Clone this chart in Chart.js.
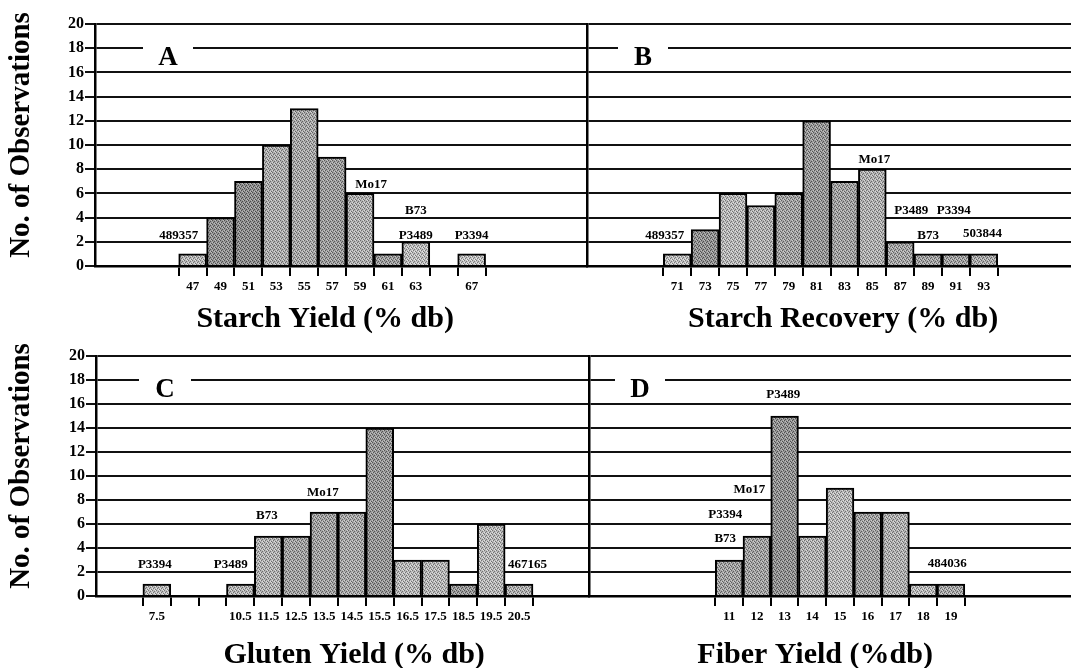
<!DOCTYPE html>
<html>
<head>
<meta charset="utf-8">
<script src="https://cdn.jsdelivr.net/npm/chart.js@4/dist/chart.umd.min.js"></script>
<style>
  body { margin: 0; background: #fff; }
  #page { position: relative; width: 1071px; height: 668px; overflow: hidden; background: #fff; }
  canvas { position: absolute; }
</style>
</head>
<body>
<div id="page">
  <canvas id="chartA" width="590" height="340" style="left:0;top:0"></canvas>
  <canvas id="chartB" width="486" height="340" style="left:585px;top:0"></canvas>
  <canvas id="chartC" width="592" height="338" style="left:0;top:330px"></canvas>
  <canvas id="chartD" width="484" height="338" style="left:587px;top:330px"></canvas>
</div>
<script>
// A: starch yield
const starchYieldBins = [47, 49, 51, 53, 55, 57, 59, 61, 63, 65, 67];
const starchYieldCounts = [1, 4, 7, 10, 13, 9, 6, 1, 2, 0, 1];
const starchYieldTicks = ['47', '49', '51', '53', '55', '57', '59', '61', '63', '', '67'];

// B: starch recovery
const starchRecoveryBins = [71, 73, 75, 77, 79, 81, 83, 85, 87, 89, 91, 93];
const starchRecoveryCounts = [1, 3, 6, 5, 6, 12, 7, 8, 2, 1, 1, 1];
const starchRecoveryTicks = ['71', '73', '75', '77', '79', '81', '83', '85', '87', '89', '91', '93'];

// C: gluten yield
const glutenYieldBins = [7.5, 8.5, 9.5, 10.5, 11.5, 12.5, 13.5, 14.5, 15.5, 16.5, 17.5, 18.5, 19.5, 20.5];
const glutenYieldCounts = [1, 0, 0, 1, 5, 5, 7, 7, 14, 3, 3, 1, 6, 1];
const glutenYieldTicks = ['7.5', '', '', '10.5', '11.5', '12.5', '13.5', '14.5', '15.5', '16.5', '17.5', '18.5', '19.5', '20.5'];

// D: fiber yield
const fiberYieldBins = [11, 12, 13, 14, 15, 16, 17, 18, 19];
const fiberYieldCounts = [3, 5, 15, 5, 9, 7, 7, 1, 1];
const fiberYieldTicks = ['11', '12', '13', '14', '15', '16', '17', '18', '19'];

const countTicks = [0, 2, 4, 6, 8, 10, 12, 14, 16, 18, 20];

// strain names written over the bars (x, y in data units)
const starchYieldNotes = [
  { text: '489357', x: 46.0, y: 2.5 },
  { text: 'Mo17', x: 59.8, y: 6.7 },
  { text: 'B73', x: 63.0, y: 4.6 },
  { text: 'P3489', x: 63.0, y: 2.55 },
  { text: 'P3394', x: 67.0, y: 2.55 }
];
const starchRecoveryNotes = [
  { text: '489357', x: 70.1, y: 2.55 },
  { text: 'Mo17', x: 85.15, y: 8.75 },
  { text: 'P3489', x: 87.8, y: 4.55 },
  { text: 'P3394', x: 90.85, y: 4.55 },
  { text: 'B73', x: 89.0, y: 2.55 },
  { text: '503844', x: 92.9, y: 2.65 }
];
const glutenYieldNotes = [
  { text: 'P3394', x: 7.43, y: 2.65 },
  { text: 'P3489', x: 10.15, y: 2.65 },
  { text: 'B73', x: 11.45, y: 6.7 },
  { text: 'Mo17', x: 13.46, y: 8.65 },
  { text: '467165', x: 20.8, y: 2.65 }
];
const fiberYieldNotes = [
  { text: 'P3489', x: 12.95, y: 16.8 },
  { text: 'Mo17', x: 11.73, y: 8.9 },
  { text: 'P3394', x: 10.86, y: 6.8 },
  { text: 'B73', x: 10.86, y: 4.75 },
  { text: '484036', x: 18.87, y: 2.72 }
];

const serif = '"Liberation Serif", "Times New Roman", serif';

// stippled gray fill, like the halftone screen in the print
const halftone = (level) => {
  const c = document.createElement('canvas');
  c.width = 4; c.height = 4;
  const g = c.getContext('2d');
  g.fillStyle = `rgb(${level},${level},${level})`;
  g.fillRect(0, 0, 4, 4);
  const dark = Math.max(level - 70, 0);
  g.fillStyle = `rgb(${dark},${dark},${dark})`;
  [[0, 0], [2, 1], [1, 2], [3, 3]].forEach(([px, py]) => g.fillRect(px, py, 1, 1));
  const lite = Math.min(level + 40, 255);
  g.fillStyle = `rgb(${lite},${lite},${lite})`;
  [[2, 3], [0, 2], [3, 0]].forEach(([px, py]) => g.fillRect(px, py, 1, 1));
  return g.createPattern(c, 'repeat');
};

const panelText = (cfg) => ({
  id: 'panelText',
  afterDraw(chart) {
    const { ctx, chartArea, scales } = chart;
    const x = scales.x, y = scales.y;
    ctx.save();
    ctx.textAlign = 'center';

    // panel letter sits in a break of the 18 gridline
    const lineY = y.getPixelForValue(18);
    const lx = chartArea.left + cfg.letterX;
    ctx.fillStyle = '#fff';
    ctx.fillRect(lx - cfg.gap, lineY - 3, cfg.gap * 2, 6);
    ctx.fillStyle = '#000';
    ctx.font = 'bold 27px ' + serif;
    ctx.textBaseline = 'alphabetic';
    ctx.fillText(cfg.letter, lx, lineY + 17);

    ctx.font = 'bold 13px ' + serif;
    ctx.textBaseline = 'middle';
    cfg.notes.forEach(n => ctx.fillText(n.text, x.getPixelForValue(n.x), y.getPixelForValue(n.y)));

    ctx.font = 'bold 30px ' + serif;
    ctx.fillText(cfg.title, x.getPixelForValue(cfg.titleAt), chartArea.bottom + cfg.titleGap);

    if (cfg.yTitle) {
      ctx.translate(22, (chartArea.top + chartArea.bottom) / 2 - 10);
      ctx.rotate(-Math.PI / 2);
      ctx.font = 'bold 29px ' + serif;
      ctx.fillText(cfg.yTitle, 0, 0);
    }
    ctx.restore();
  }
});

const makeChart = (id, cfg) => {
  const half = cfg.width / 2;
  const edges = new Set();
  cfg.bins.forEach(b => { edges.add(b - half); edges.add(b + half); });
  const labelAt = new Map(cfg.bins.map((b, i) => [b, cfg.tickLabels[i]]));
  const xTicks = [...edges, ...cfg.bins].sort((a, b) => a - b);
  const showY = cfg.yWidth > 0;

  return new Chart(document.getElementById(id), {
    type: 'bar',
    data: {
      datasets: [{
        data: cfg.bins.map((b, i) => ({ x: b, y: cfg.counts[i] })),
        backgroundColor: cfg.shades.map(halftone),
        borderColor: '#000',
        borderWidth: 2,
        barThickness: 'flex',
        barPercentage: 1,
        categoryPercentage: 1
      }]
    },
    options: {
      responsive: false,
      animation: false,
      events: [],
      layout: { padding: cfg.padding },
      plugins: { legend: { display: false }, tooltip: { enabled: false } },
      scales: {
        x: {
          type: 'linear',
          min: cfg.xMin,
          max: cfg.xMax,
          offset: false,
          grid: {
            offset: false,
            drawOnChartArea: false,
            tickLength: 10,
            lineWidth: 2,
            tickColor: (c) => (c.tick && edges.has(c.tick.value)) ? '#000' : 'rgba(0,0,0,0)'
          },
          border: { display: true, color: '#000', width: 2.5 },
          ticks: {
            autoSkip: false,
            maxRotation: 0,
            padding: 3,
            color: '#000',
            font: { family: serif, size: 13, weight: 'bold' },
            callback: (v) => labelAt.get(v) || ''
          },
          afterBuildTicks: (s) => { s.ticks = xTicks.map(v => ({ value: v })); },
          afterFit: (s) => { s.height = 30; }
        },
        y: {
          min: 0,
          max: 20,
          grid: { color: '#111', lineWidth: 2, drawTicks: showY, tickLength: 10 },
          border: { display: true, color: '#000', width: 2.5 },
          ticks: {
            display: showY,
            padding: 1,
            color: '#000',
            font: { family: serif, size: 16, weight: 'bold' }
          },
          afterBuildTicks: (s) => { s.ticks = countTicks.map(v => ({ value: v })); },
          afterFit: (s) => { s.width = cfg.yWidth; }
        }
      }
    },
    plugins: [panelText(cfg)]
  });
};

makeChart('chartA', {
  bins: starchYieldBins, counts: starchYieldCounts, tickLabels: starchYieldTicks, width: 2,
  xMin: 40, xMax: 75.27, yWidth: 95,
  padding: { top: 24, left: 0, right: 3, bottom: 44 },
  shades: [185, 150, 145, 175, 170, 160, 178, 160, 190, 190, 195],
  letter: 'A', letterX: 73, gap: 25, notes: starchYieldNotes,
  title: 'Starch Yield (% db)', titleAt: 56.5, titleGap: 53, yTitle: 'No. of Observations'
});

makeChart('chartB', {
  bins: starchRecoveryBins, counts: starchRecoveryCounts, tickLabels: starchRecoveryTicks, width: 2,
  xMin: 64.52, xMax: 99.26, yWidth: 0,
  padding: { top: 24, left: 2, right: 0, bottom: 44 },
  shades: [192, 150, 185, 178, 165, 155, 165, 178, 168, 165, 165, 172],
  letter: 'B', letterX: 56, gap: 25, notes: starchRecoveryNotes,
  title: 'Starch Recovery (% db)', titleAt: 82.9, titleGap: 53
});

makeChart('chartC', {
  bins: glutenYieldBins, counts: glutenYieldCounts, tickLabels: glutenYieldTicks, width: 1,
  xMin: 5.317, xMax: 23.01, yWidth: 96,
  padding: { top: 26, left: 0, right: 3, bottom: 42 },
  shades: [188, 188, 188, 182, 180, 165, 165, 170, 155, 185, 185, 155, 185, 178],
  letter: 'C', letterX: 69, gap: 26, notes: glutenYieldNotes,
  title: 'Gluten Yield (% db)', titleAt: 14.58, titleGap: 59, yTitle: 'No. of Observations'
});

makeChart('chartD', {
  bins: fiberYieldBins, counts: fiberYieldCounts, tickLabels: fiberYieldTicks, width: 1,
  xMin: 5.945, xMax: 23.33, yWidth: 0,
  padding: { top: 26, left: 2, right: 0, bottom: 42 },
  shades: [165, 165, 150, 180, 185, 165, 178, 188, 170],
  letter: 'D', letterX: 51, gap: 25, notes: fiberYieldNotes,
  title: 'Fiber Yield (%db)', titleAt: 14.1, titleGap: 59
});
</script>
</body>
</html>
